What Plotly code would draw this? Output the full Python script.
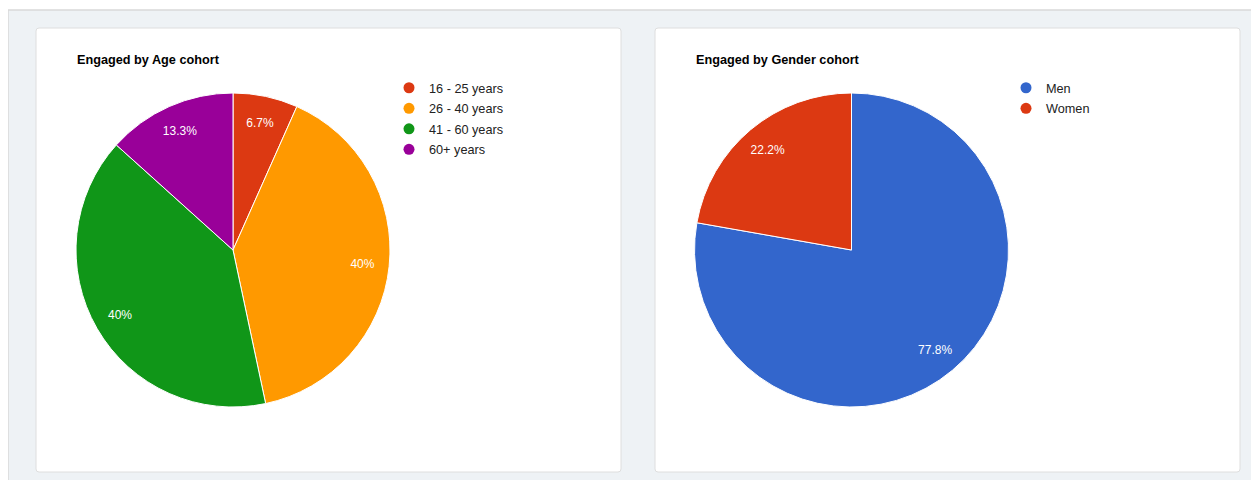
import plotly.graph_objects as go

# The page body adds an 8px margin, so the figure is sized and offset accordingly.
OFF = 8
W, H = 1259 - OFF, 480 - OFF

# ---- data ----
age_labels = ["16 - 25 years", "26 - 40 years", "41 - 60 years", "60+ years"]
age_values = [1, 6, 6, 2]
age_colors = ["#dc3912", "#ff9900", "#109618", "#990099"]

gender_labels = ["Men", "Women"]
gender_values = [7, 2]
gender_colors = ["#3366cc", "#dc3912"]

titles = ["Engaged by Age cohort", "Engaged by Gender cohort"]

FONT = "Arial, Liberation Sans, sans-serif"


def px(x):
    return (x - OFF) / W


def py(y):
    return 1 - (y - OFF) / H


def pct_text(values):
    tot = sum(values)
    return [f"{round(v / tot * 100, 1):g}%" for v in values]


def rounded_rect(x0, y0, x1, y1, r=3):
    X0, X1 = px(x0), px(x1)
    Y0, Y1 = py(y0), py(y1)
    rx, ry = r / W, r / H
    return (f"M{X0+rx},{Y0} L{X1-rx},{Y0} Q{X1},{Y0} {X1},{Y0-ry} "
            f"L{X1},{Y1+ry} Q{X1},{Y1} {X1-rx},{Y1} L{X0+rx},{Y1} "
            f"Q{X0},{Y1} {X0},{Y1+ry} L{X0},{Y0-ry} Q{X0},{Y0} {X0+rx},{Y0} Z")


fig = go.Figure()

pies = [
    (age_labels, age_values, age_colors, (76, 390), "legend"),
    (gender_labels, gender_values, gender_colors, (694.5, 1008.5), "legend2"),
]

for labels, values, colors, (xa, xb), leg in pies:
    dom = dict(x=[px(xa), px(xb)], y=[py(407), py(93)])
    # coloured slices
    fig.add_trace(go.Pie(
        labels=labels, values=values, sort=False, direction="clockwise",
        rotation=0,
        marker=dict(colors=colors, line=dict(color="white", width=1)),
        textinfo="none",
        hoverinfo="label+value+percent",
        domain=dom, showlegend=False,
    ))
    # transparent ring carrying the percentage labels near the rim
    fig.add_trace(go.Pie(
        labels=labels, values=values, sort=False, direction="clockwise",
        rotation=0, hole=0.66,
        marker=dict(colors=["rgba(0,0,0,0)"] * len(values),
                    line=dict(color="rgba(0,0,0,0)", width=0)),
        text=pct_text(values), textinfo="text", textposition="inside",
        insidetextorientation="horizontal",
        textfont=dict(family=FONT, size=12, color="white"),
        hoverinfo="skip",
        domain=dom, showlegend=False,
    ))
    for lab, col in zip(labels, colors):
        fig.add_trace(go.Scatter(
            x=[None], y=[None], mode="markers", name=lab,
            marker=dict(color=col, size=11, symbol="circle"),
            legend=leg, legendgroup=leg + lab, showlegend=True, hoverinfo="skip",
        ))

shapes = [
    dict(type="rect", xref="paper", yref="paper", x0=px(8), x1=px(1255),
         y0=py(10), y1=py(500), fillcolor="#eef2f5",
         line=dict(color="#d9d9d9", width=1.5), layer="below"),
    dict(type="path", xref="paper", yref="paper", path=rounded_rect(36, 28, 621, 472),
         fillcolor="white", line=dict(color="#dedede", width=1), layer="below"),
    dict(type="path", xref="paper", yref="paper", path=rounded_rect(655, 28, 1240, 472),
         fillcolor="white", line=dict(color="#dedede", width=1), layer="below"),
]

annotations = [
    dict(text=f"<b>{titles[0]}</b>", x=px(75), y=py(60), xref="paper", yref="paper",
         xanchor="left", yanchor="middle", showarrow=False,
         font=dict(family=FONT, size=12.7, color="#000000")),
    dict(text=f"<b>{titles[1]}</b>", x=px(694), y=py(60), xref="paper", yref="paper",
         xanchor="left", yanchor="middle", showarrow=False,
         font=dict(family=FONT, size=12.7, color="#000000")),
]

legend_common = dict(font=dict(family=FONT, size=12.7, color="#222222"),
                     bgcolor="rgba(0,0,0,0)", xanchor="left", yanchor="top",
                     itemclick=False, itemdoubleclick=False,
                     traceorder="grouped", tracegroupgap=1)

fig.update_layout(
    width=W, height=H, margin=dict(l=0, r=0, t=0, b=0),
    paper_bgcolor="white", plot_bgcolor="rgba(0,0,0,0)",
    xaxis=dict(visible=False), yaxis=dict(visible=False),
    shapes=shapes, annotations=annotations,
    legend=dict(x=px(389), y=py(73), **legend_common),
    legend2=dict(x=px(1006), y=py(73), **legend_common),
    font=dict(family=FONT),
)

fig.write_html("out.html")
